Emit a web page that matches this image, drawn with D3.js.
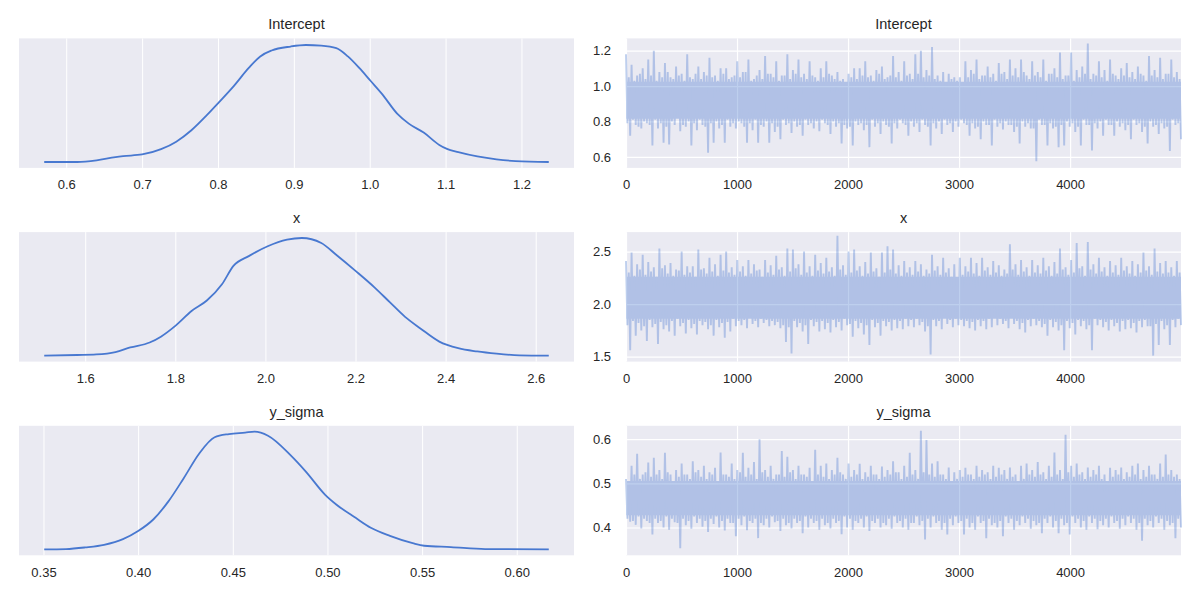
<!DOCTYPE html>
<html><head><meta charset="utf-8">
<script src="https://cdn.jsdelivr.net/npm/d3@7"></script>
<style>
body{margin:0;background:#fff}
svg{display:block}
text{font-family:"Liberation Sans",Arial,sans-serif;fill:#262626}
</style>
</head><body>
<svg id="chart" width="1200" height="600"></svg>
<script>
// ---------- data ----------
const varNames = ["Intercept", "x", "y_sigma"];
const nDraws = 5000;

// KDE curves (value, relative density)
const interceptKdeX = [0.571,0.6146,0.640,0.665,0.675,0.700,0.725,0.745,0.765,0.785,0.800,0.8205,0.8406,0.8557,0.8707,0.8958,0.9159,0.936,0.956,0.9712,0.9862,1.0013,1.0164,1.0365,1.0515,1.0716,1.0917,1.1018,1.1168,1.1419,1.1671,1.1922,1.236];
const interceptKdeY = [0,0,0.014,0.042,0.050,0.064,0.109,0.173,0.270,0.396,0.499,0.643,0.799,0.897,0.947,0.981,0.994,0.989,0.967,0.897,0.799,0.688,0.577,0.409,0.326,0.248,0.145,0.111,0.084,0.047,0.022,0.008,0];
const xKdeX = [1.509,1.582,1.6245,1.667,1.700,1.743,1.768,1.802,1.836,1.870,1.904,1.929,1.963,2.005,2.048,2.081,2.124,2.157,2.200,2.242,2.276,2.310,2.344,2.386,2.428,2.470,2.513,2.564,2.629];
const xKdeY = [0,0.006,0.011,0.031,0.070,0.112,0.162,0.260,0.380,0.469,0.609,0.763,0.846,0.930,0.986,1.0,0.958,0.858,0.721,0.581,0.455,0.330,0.232,0.120,0.064,0.036,0.017,0.003,0];
const sigmaKdeX = [0.3504,0.3619,0.372,0.382,0.392,0.400,0.408,0.416,0.424,0.4322,0.4404,0.448,0.4565,0.4615,0.4686,0.4806,0.4887,0.4988,0.5048,0.5149,0.5229,0.533,0.545,0.5511,0.5652,0.5833,0.6169];
const sigmaKdeY = [0,0.003,0.017,0.039,0.087,0.156,0.254,0.408,0.603,0.813,0.953,0.980,0.992,1.0,0.966,0.799,0.659,0.464,0.380,0.268,0.184,0.115,0.053,0.031,0.020,0.003,0];

// Trace, per block of 50 draws: tallest spike up, moderate dip, moderate rise, deepest spike down; plus the dense core band
const interceptHigh = [1.18,1.12,1.06,1.10,1.15,1.20,1.08,1.13,1.05,1.11,1.07,1.18,1.04,1.11,1.08,1.16,1.06,1.10,1.10,1.05,1.14,1.08,1.15,1.04,1.09,1.17,1.07,1.14,1.06,1.18,1.09,1.15,1.07,1.14,1.05,1.10,1.14,1.06,1.08,1.04,1.07,1.10,1.10,1.14,1.06,1.09,1.11,1.05,1.17,1.08,1.14,1.07,1.18,1.20,1.09,1.22,1.06,1.08,1.07,1.05,1.05,1.14,1.09,1.15,1.06,1.11,1.07,1.13,1.08,1.15,1.10,1.15,1.06,1.14,1.08,1.15,1.07,1.10,1.19,1.06,1.19,1.09,1.11,1.24,1.07,1.14,1.09,1.15,1.06,1.10,1.13,1.08,1.11,1.06,1.17,1.09,1.16,1.07,1.15,1.08];
const interceptMidLow = [0.79,0.81,0.77,0.80,0.78,0.81,0.79,0.77,0.80,0.82,0.78,0.80,0.79,0.81,0.77,0.79,0.80,0.78,0.81,0.79,0.80,0.77,0.79,0.81,0.78,0.80,0.79,0.77,0.81,0.79,0.80,0.78,0.81,0.79,0.80,0.81,0.78,0.80,0.79,0.78,0.77,0.80,0.79,0.78,0.81,0.79,0.80,0.77,0.79,0.81,0.78,0.80,0.79,0.81,0.77,0.79,0.80,0.81,0.79,0.80,0.81,0.78,0.79,0.77,0.80,0.78,0.81,0.79,0.80,0.78,0.77,0.80,0.79,0.76,0.81,0.78,0.79,0.77,0.78,0.80,0.79,0.77,0.81,0.78,0.79,0.80,0.81,0.78,0.80,0.79,0.78,0.81,0.79,0.77,0.80,0.78,0.79,0.77,0.81,0.79];
const interceptMidHigh = [1.05,1.03,1.07,1.04,1.06,1.03,1.05,1.08,1.04,1.06,1.03,1.05,1.07,1.04,1.06,1.05,1.03,1.07,1.04,1.06,1.05,1.08,1.03,1.06,1.04,1.07,1.05,1.03,1.06,1.04,1.07,1.05,1.04,1.06,1.03,1.05,1.07,1.04,1.03,1.02,1.05,1.04,1.06,1.05,1.03,1.07,1.04,1.06,1.05,1.03,1.06,1.04,1.07,1.05,1.06,1.04,1.03,1.02,1.04,1.03,1.02,1.05,1.07,1.04,1.06,1.05,1.03,1.07,1.04,1.06,1.05,1.08,1.04,1.06,1.05,1.03,1.07,1.05,1.04,1.06,1.03,1.05,1.07,1.04,1.06,1.05,1.03,1.07,1.04,1.06,1.05,1.04,1.07,1.03,1.06,1.05,1.04,1.07,1.05,1.04];
const interceptLow = [0.72,0.78,0.76,0.79,0.665,0.76,0.68,0.67,0.78,0.745,0.77,0.665,0.75,0.78,0.624,0.68,0.76,0.68,0.77,0.76,0.79,0.68,0.75,0.68,0.77,0.68,0.74,0.70,0.78,0.735,0.77,0.72,0.78,0.76,0.745,0.79,0.73,0.77,0.675,0.76,0.665,0.78,0.75,0.655,0.77,0.73,0.78,0.675,0.76,0.79,0.72,0.77,0.74,0.78,0.665,0.76,0.73,0.78,0.74,0.77,0.79,0.72,0.76,0.70,0.78,0.665,0.77,0.755,0.78,0.74,0.675,0.77,0.76,0.575,0.78,0.665,0.76,0.655,0.665,0.77,0.74,0.665,0.78,0.636,0.76,0.72,0.78,0.72,0.77,0.75,0.70,0.78,0.74,0.675,0.77,0.73,0.76,0.633,0.78,0.70];
const interceptCore = [0.815, 1.025];

const xHigh = [2.41,2.49,2.38,2.47,2.40,2.35,2.53,2.37,2.39,2.33,2.50,2.36,2.36,2.52,2.34,2.44,2.38,2.47,2.50,2.35,2.42,2.36,2.42,2.38,2.33,2.42,2.37,2.46,2.35,2.53,2.52,2.38,2.50,2.36,2.47,2.39,2.44,2.35,2.65,2.37,2.50,2.52,2.36,2.40,2.49,2.34,2.49,2.55,2.52,2.37,2.41,2.35,2.41,2.38,2.33,2.47,2.36,2.44,2.34,2.38,2.44,2.36,2.44,2.39,2.44,2.35,2.41,2.37,2.33,2.57,2.38,2.42,2.35,2.42,2.37,2.44,2.36,2.40,2.53,2.35,2.42,2.58,2.36,2.59,2.38,2.44,2.35,2.41,2.37,2.44,2.36,2.41,2.38,2.49,2.36,2.53,2.39,2.41,2.35,2.41];
const xMidLow = [1.80,1.84,1.82,1.79,1.85,1.81,1.83,1.80,1.84,1.86,1.82,1.85,1.81,1.84,1.83,1.80,1.85,1.82,1.83,1.86,1.84,1.85,1.87,1.84,1.86,1.85,1.84,1.83,1.80,1.78,1.84,1.82,1.80,1.85,1.83,1.84,1.82,1.85,1.83,1.86,1.81,1.84,1.82,1.80,1.85,1.82,1.84,1.83,1.85,1.84,1.86,1.85,1.86,1.83,1.79,1.85,1.84,1.87,1.85,1.86,1.85,1.84,1.83,1.85,1.84,1.86,1.87,1.86,1.84,1.87,1.84,1.82,1.85,1.86,1.84,1.81,1.85,1.83,1.80,1.84,1.82,1.85,1.84,1.80,1.86,1.85,1.83,1.85,1.82,1.84,1.85,1.82,1.84,1.85,1.79,1.81,1.84,1.80,1.85,1.86];
const xMidHigh = [2.30,2.27,2.33,2.28,2.31,2.26,2.34,2.29,2.27,2.32,2.28,2.30,2.26,2.33,2.29,2.31,2.27,2.32,2.30,2.28,2.31,2.27,2.29,2.32,2.26,2.30,2.28,2.33,2.27,2.31,2.34,2.28,2.30,2.27,2.32,2.29,2.31,2.27,2.33,2.28,2.30,2.32,2.27,2.29,2.31,2.26,2.30,2.33,2.29,2.27,2.30,2.28,2.31,2.27,2.29,2.32,2.28,2.30,2.26,2.25,2.28,2.31,2.29,2.27,2.32,2.28,2.30,2.27,2.29,2.33,2.28,2.31,2.27,2.30,2.29,2.32,2.27,2.29,2.33,2.28,2.30,2.34,2.27,2.33,2.29,2.31,2.27,2.30,2.28,2.32,2.29,2.27,2.30,2.32,2.28,2.31,2.29,2.30,2.27,2.30];
const xLow = [1.56,1.70,1.75,1.65,1.78,1.62,1.76,1.74,1.70,1.79,1.72,1.77,1.71,1.80,1.76,1.70,1.78,1.68,1.74,1.79,1.80,1.77,1.81,1.78,1.82,1.79,1.80,1.77,1.64,1.53,1.78,1.74,1.62,1.79,1.74,1.76,1.73,1.78,1.75,1.80,1.69,1.77,1.71,1.61,1.78,1.70,1.79,1.75,1.77,1.76,1.79,1.78,1.80,1.74,1.52,1.79,1.76,1.81,1.78,1.80,1.79,1.77,1.75,1.79,1.76,1.78,1.80,1.81,1.77,1.81,1.76,1.73,1.79,1.80,1.78,1.70,1.78,1.75,1.56,1.77,1.71,1.79,1.76,1.56,1.80,1.78,1.75,1.79,1.74,1.76,1.77,1.73,1.78,1.79,1.51,1.61,1.76,1.61,1.78,1.80];
const xCore = [1.86, 2.26];

const sigmaHigh = [0.51,0.54,0.567,0.52,0.547,0.558,0.53,0.569,0.52,0.53,0.545,0.52,0.55,0.53,0.54,0.525,0.535,0.57,0.52,0.545,0.53,0.569,0.535,0.548,0.60,0.53,0.54,0.52,0.573,0.56,0.53,0.54,0.52,0.535,0.576,0.54,0.545,0.53,0.558,0.52,0.545,0.53,0.544,0.525,0.54,0.52,0.538,0.53,0.55,0.525,0.54,0.569,0.53,0.619,0.598,0.545,0.55,0.52,0.536,0.525,0.53,0.535,0.52,0.54,0.53,0.525,0.54,0.535,0.53,0.536,0.52,0.54,0.545,0.53,0.548,0.525,0.54,0.570,0.53,0.61,0.54,0.545,0.525,0.536,0.53,0.54,0.52,0.535,0.53,0.536,0.525,0.54,0.545,0.53,0.54,0.52,0.545,0.565,0.53,0.52];
const sigmaMidLow = [0.42,0.415,0.425,0.42,0.41,0.42,0.415,0.425,0.42,0.41,0.42,0.415,0.425,0.42,0.415,0.42,0.425,0.415,0.42,0.41,0.42,0.425,0.415,0.42,0.41,0.42,0.425,0.415,0.42,0.41,0.42,0.415,0.425,0.42,0.415,0.42,0.41,0.42,0.415,0.425,0.42,0.415,0.42,0.425,0.415,0.42,0.41,0.42,0.425,0.415,0.42,0.41,0.425,0.415,0.42,0.425,0.415,0.41,0.42,0.425,0.415,0.42,0.41,0.425,0.415,0.42,0.41,0.415,0.425,0.42,0.415,0.425,0.42,0.415,0.41,0.42,0.425,0.415,0.42,0.41,0.425,0.42,0.415,0.425,0.42,0.415,0.42,0.425,0.415,0.42,0.425,0.42,0.41,0.42,0.415,0.425,0.42,0.415,0.41,0.42];
const sigmaMidHigh = [0.505,0.52,0.51,0.525,0.515,0.52,0.51,0.525,0.505,0.515,0.52,0.51,0.525,0.515,0.51,0.52,0.505,0.52,0.515,0.51,0.525,0.515,0.52,0.51,0.525,0.515,0.51,0.52,0.515,0.525,0.51,0.52,0.515,0.505,0.52,0.515,0.51,0.52,0.525,0.51,0.515,0.52,0.51,0.515,0.52,0.51,0.515,0.52,0.525,0.51,0.515,0.52,0.51,0.525,0.52,0.515,0.52,0.51,0.505,0.51,0.515,0.52,0.51,0.515,0.52,0.51,0.515,0.52,0.51,0.515,0.505,0.51,0.52,0.515,0.52,0.51,0.515,0.52,0.51,0.525,0.515,0.52,0.51,0.515,0.52,0.51,0.505,0.515,0.52,0.51,0.515,0.52,0.51,0.515,0.52,0.51,0.515,0.52,0.515,0.51];
const sigmaLow = [0.413,0.406,0.398,0.415,0.384,0.41,0.40,0.395,0.412,0.353,0.405,0.397,0.41,0.402,0.39,0.408,0.40,0.393,0.41,0.38,0.405,0.394,0.41,0.376,0.405,0.40,0.412,0.392,0.405,0.398,0.41,0.387,0.40,0.41,0.395,0.405,0.398,0.41,0.385,0.40,0.395,0.41,0.40,0.392,0.41,0.40,0.405,0.397,0.41,0.40,0.395,0.41,0.405,0.373,0.40,0.41,0.395,0.384,0.405,0.41,0.384,0.40,0.395,0.41,0.376,0.405,0.40,0.38,0.41,0.395,0.405,0.41,0.397,0.405,0.387,0.41,0.40,0.387,0.405,0.384,0.41,0.40,0.395,0.41,0.396,0.405,0.40,0.41,0.397,0.405,0.41,0.395,0.37,0.405,0.40,0.41,0.395,0.405,0.376,0.40];
const sigmaCore = [0.428, 0.505];

// Tick labels
const interceptKdeTicks = [0.6,0.7,0.8,0.9,1.0,1.1,1.2];
const xKdeTicks = [1.6,1.8,2.0,2.2,2.4,2.6];
const sigmaKdeTicks = [0.35,0.40,0.45,0.50,0.55,0.60];
const interceptTraceTicks = [0.6,0.8,1.0,1.2];
const xTraceTicks = [1.5,2.0,2.5];
const sigmaTraceTicks = [0.4,0.5,0.6];
const drawTicks = [0,1000,2000,3000,4000];

// ---------- drawing ----------
const rows = [
  {name: varNames[0], kx: interceptKdeX, ky: interceptKdeY, hi: interceptHigh, ml: interceptMidLow, mh: interceptMidHigh, lo: interceptLow, core: interceptCore, kt: interceptKdeTicks, kf: ".1f", tt: interceptTraceTicks, tf: ".1f"},
  {name: varNames[1], kx: xKdeX, ky: xKdeY, hi: xHigh, ml: xMidLow, mh: xMidHigh, lo: xLow, core: xCore, kt: xKdeTicks, kf: ".1f", tt: xTraceTicks, tf: ".1f"},
  {name: varNames[2], kx: sigmaKdeX, ky: sigmaKdeY, hi: sigmaHigh, ml: sigmaMidLow, mh: sigmaMidHigh, lo: sigmaLow, core: sigmaCore, kt: sigmaKdeTicks, kf: ".2f", tt: sigmaTraceTicks, tf: ".1f"}
];

const svg = d3.select("#chart");
const color = "#4878d0";
const bg = "#eaeaf2";
const fontFam = '"Liberation Sans", Arial, sans-serif';
const leftX = [19, 574], rightX = [626, 1181];
const rowTop0 = 38.4, rowStep = 193.7, rowH = 129.5;

function padDomain(lo, hi) { const m = (hi - lo) * 0.05; return [lo - m, hi + m]; }
function styleAxis(ax, w) {
  ax.select(".domain").remove();
  ax.selectAll(".tick line").attr("stroke", "#fff").attr("stroke-width", w);
  ax.selectAll(".tick text").attr("font-size", 13).attr("fill", "#262626").attr("font-family", fontFam);
}

rows.forEach((r, i) => {
  const top = rowTop0 + i * rowStep, bottom = top + rowH;
  const lo = r.kx[0], hi = r.kx[r.kx.length - 1];
  const valDomain = padDomain(lo, hi);

  // ---- left: KDE ----
  const xs = d3.scaleLinear().domain(valDomain).range(leftX);
  const ys = d3.scaleLinear().domain(padDomain(0, 1)).range([bottom, top]);
  const gL = svg.append("g");
  gL.append("rect").attr("x", leftX[0]).attr("y", top).attr("width", leftX[1]-leftX[0]).attr("height", rowH).attr("fill", bg);
  styleAxis(gL.append("g").attr("transform", `translate(0,${bottom})`)
    .call(d3.axisBottom(xs).tickValues(r.kt).tickFormat(d3.format(r.kf)).tickSize(-rowH).tickPadding(12)), 1);
  const pts = r.kx.map((v, k) => [v, r.ky[k]]);
  gL.append("path").datum(pts)
    .attr("d", d3.line().x(d => xs(d[0])).y(d => ys(d[1])).curve(d3.curveMonotoneX))
    .attr("fill", "none").attr("stroke", color).attr("stroke-width", 1.8);
  gL.append("text").attr("x", (leftX[0]+leftX[1])/2).attr("y", top - 14)
    .attr("text-anchor", "middle").attr("dominant-baseline", "central").attr("font-size", 14.5).text(r.name);

  // ---- right: trace ----
  const tx = d3.scaleLinear().domain([0, nDraws - 1]).range(rightX);
  const ty = d3.scaleLinear().domain(valDomain).range([bottom, top]);
  const gR = svg.append("g");
  gR.append("rect").attr("x", rightX[0]).attr("y", top).attr("width", rightX[1]-rightX[0]).attr("height", rowH).attr("fill", bg);
  styleAxis(gR.append("g").attr("transform", `translate(0,${bottom})`)
    .call(d3.axisBottom(tx).tickValues(drawTicks).tickFormat(d3.format("d")).tickSize(-rowH).tickPadding(12)), 1.2);
  styleAxis(gR.append("g").attr("transform", `translate(${rightX[0]},0)`)
    .call(d3.axisLeft(ty).tickValues(r.tt).tickFormat(d3.format(r.tf)).tickSize(-(rightX[1]-rightX[0])).tickPadding(15)), 1.2);

  const seq = [];
  r.hi.forEach((h, k) => {
    [h, r.ml[k], r.mh[k], r.lo[k]].forEach(v => { if (v !== undefined) seq.push(v); });
  });
  const nPts = seq.length;
  const tracePts = seq.map((v, k) => [k * (nDraws - 1) / (nPts - 1), v]);
  const gT = gR.append("g").attr("opacity", 0.35);
  gT.append("path").datum([[0, r.core], [nDraws - 1, r.core]])
    .attr("d", d3.area().x(d => tx(d[0])).y0(d => ty(d[1][0])).y1(d => ty(d[1][1])))
    .attr("fill", color);
  gT.append("path").datum(tracePts)
    .attr("d", d3.line().x(d => tx(d[0])).y(d => ty(d[1])))
    .attr("fill", "none").attr("stroke", color).attr("stroke-width", 1.9);
  gR.append("text").attr("x", (rightX[0]+rightX[1])/2).attr("y", top - 14)
    .attr("text-anchor", "middle").attr("dominant-baseline", "central").attr("font-size", 14.5).text(r.name);
});
</script>
</body></html>
